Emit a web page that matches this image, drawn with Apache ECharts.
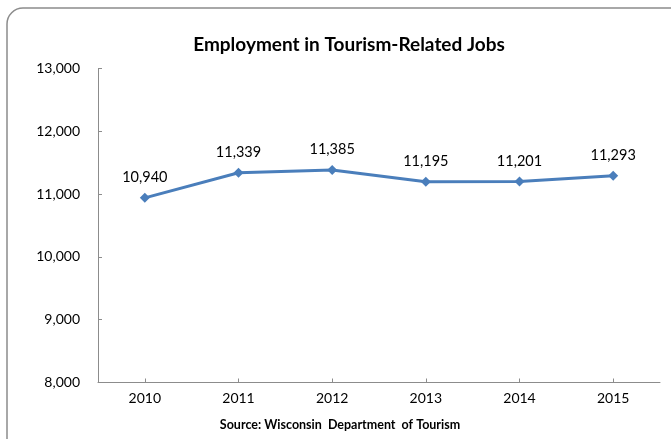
<!DOCTYPE html>
<html>
<head>
<meta charset="utf-8">
<script src="https://cdn.jsdelivr.net/npm/echarts@6/dist/echarts.min.js"></script>
<style>
  html, body { margin: 0; padding: 0; background: #ffffff; }
  #chart { width: 671px; height: 439px; }
</style>
</head>
<body>
<div id="chart"></div>
<script>
// Employment in tourism-related jobs, Wisconsin
const years = ['2010', '2011', '2012', '2013', '2014', '2015'];
const jobs = [10940, 11339, 11385, 11195, 11201, 11293];
const yTicks = { min: 8000, max: 13000, interval: 1000 };

const FONT = 'Lato, "Open Sans", sans-serif';

const chart = echarts.init(document.getElementById('chart'), null, { renderer: 'canvas' });

chart.setOption({
  backgroundColor: '#ffffff',
  animation: false,
  grid: { left: 98, right: 11, top: 68.5, bottom: 56.5, containLabel: false },
  xAxis: {
    type: 'category',
    data: years,
    boundaryGap: true,
    axisLine: { lineStyle: { color: '#8c8c8c', width: 1 } },
    axisTick: { show: true, alignWithLabel: true, inside: true, length: 4, lineStyle: { color: '#8c8c8c' } },
    axisLabel: { color: '#000000', fontFamily: FONT, fontSize: 14, margin: 9 },
    splitLine: { show: false }
  },
  yAxis: {
    type: 'value',
    min: yTicks.min,
    max: yTicks.max,
    interval: yTicks.interval,
    axisLine: { show: true, lineStyle: { color: '#8c8c8c', width: 1 } },
    axisTick: { show: true, inside: true, length: 4, lineStyle: { color: '#8c8c8c' } },
    axisLabel: {
      color: '#000000', fontFamily: FONT, fontSize: 14, margin: 18,
      formatter: v => v.toLocaleString('en-US')
    },
    splitLine: { show: false }
  },
  series: [{
    type: 'line',
    data: jobs,
    symbol: 'diamond',
    symbolSize: 10,
    lineStyle: { color: '#4a7ebb', width: 3 },
    itemStyle: { color: '#4a7ebb' },
    label: {
      show: true,
      position: 'top',
      distance: 8,
      color: '#000000',
      fontFamily: FONT,
      fontSize: 14.5,
      formatter: p => p.value.toLocaleString('en-US')
    }
  }],
  graphic: [
    {
      type: 'rect',
      shape: { x: 7, y: 8, width: 720, height: 470, r: 16 },
      style: { fill: 'none', stroke: '#8c8c8c', lineWidth: 1.5 },
      silent: true
    },
    {
      // chart title
      type: 'text',
      x: 349,
      y: 45,
      style: {
        text: 'Employment in Tourism-Related Jobs',
        align: 'center', verticalAlign: 'middle',
        fontFamily: FONT, fontSize: 19, fontWeight: 'bold', fill: '#000000'
      }
    },
    {
      // source note
      type: 'text',
      x: 340,
      y: 425,
      style: {
        text: 'Source: Wisconsin  Department  of Tourism',
        align: 'center', verticalAlign: 'middle',
        fontFamily: FONT, fontSize: 12.5, fontWeight: 'bold', fill: '#000000'
      }
    }
  ]
});
</script>
</body>
</html>
